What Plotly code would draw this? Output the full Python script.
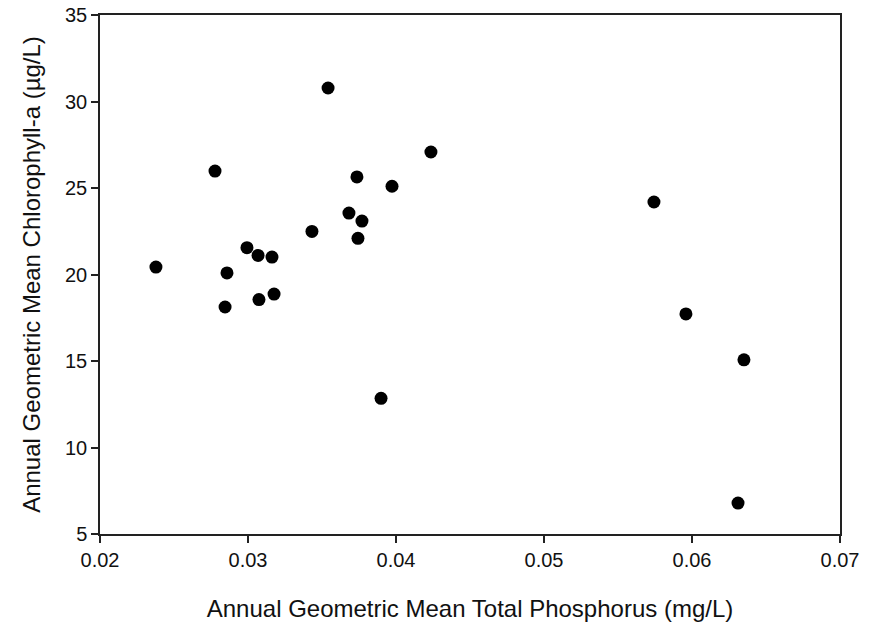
import plotly.graph_objects as go

tp = [0.02378, 0.02777, 0.02858, 0.02845, 0.02993, 0.03068, 0.03162, 0.03074,
      0.03176, 0.03432, 0.03541, 0.03682, 0.03736, 0.03770, 0.03743, 0.03973,
      0.03899, 0.04236, 0.05743, 0.05959, 0.06351, 0.06311]
chla = [20.43, 25.98, 20.09, 18.12, 21.55, 21.10, 21.01, 18.55,
        18.87, 22.49, 30.78, 23.55, 25.64, 23.09, 22.09, 25.10,
        12.84, 27.08, 24.19, 17.72, 15.07, 6.79]

x_ticks = [0.02, 0.03, 0.04, 0.05, 0.06, 0.07]
y_ticks = [5, 10, 15, 20, 25, 30, 35]

fig = go.Figure(go.Scatter(
    x=tp, y=chla, mode="markers",
    marker=dict(size=13, color="black"),
))

font = "Liberation Sans, Arial, sans-serif"
axis_common = dict(
    showline=True, linecolor="#222", linewidth=1.5, mirror=True,
    ticks="outside", ticklen=7, tickwidth=1.5, tickcolor="#222",
    showgrid=False, zeroline=False, automargin=False,
    tickfont=dict(family=font, size=20, color="#111"),
)

fig.update_layout(
    width=879, height=626,
    margin=dict(l=100, r=39, t=15, b=92),
    paper_bgcolor="white", plot_bgcolor="white",
    showlegend=False,
    xaxis=dict(range=[0.02, 0.07], tickvals=x_ticks,
               ticktext=[f"{v:.2f}" for v in x_ticks],
               title=dict(text="Annual Geometric Mean Total Phosphorus (mg/L)",
                          font=dict(family=font, size=24, color="#111"), standoff=30),
               **axis_common),
    yaxis=dict(range=[5, 35], tickvals=y_ticks,
               title=dict(text="Annual Geometric Mean Chlorophyll-a (µg/L)",
                          font=dict(family=font, size=24, color="#111"), standoff=18),
               **axis_common),
)

fig.write_html("out.html")
